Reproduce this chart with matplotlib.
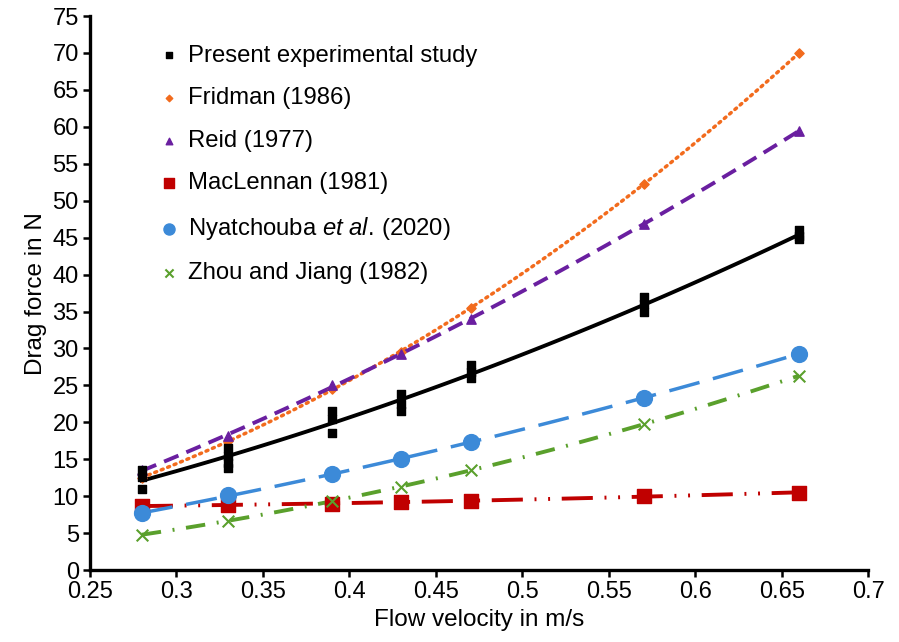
import numpy as np
import matplotlib
matplotlib.use("Agg")
from matplotlib import pyplot as plt

plt.rcParams['font.family'] = ['Liberation Sans', 'DejaVu Sans']
plt.rcParams['mathtext.fontset'] = 'custom'
plt.rcParams['mathtext.rm'] = 'Liberation Sans'
plt.rcParams['mathtext.it'] = 'Liberation Sans:italic'

# flow velocities (m/s)
velocity = [0.28, 0.33, 0.39, 0.43, 0.47, 0.57, 0.66]

# present experimental study - replicate measurements per velocity
exp_v = [0.28, 0.28, 0.28,
         0.33, 0.33, 0.33, 0.33,
         0.39, 0.39, 0.39,
         0.43, 0.43, 0.43,
         0.47, 0.47, 0.47,
         0.57, 0.57, 0.57,
         0.66, 0.66, 0.66]
exp_f = [13.6, 12.6, 11.0,
         16.5, 15.5, 14.5, 13.8,
         21.5, 20.5, 18.6,
         23.8, 22.5, 21.5,
         27.8, 26.8, 26.0,
         37.0, 36.0, 35.0,
         46.0, 45.2, 44.8]

fridman = [12.5, 17.5, 24.5, 29.5, 35.5, 52.3, 70.0]
reid = [13.5, 18.2, 25.0, 29.3, 34.0, 46.8, 59.5]
maclennan = [8.7, 8.8, 9.0, 9.2, 9.4, 10.0, 10.5]
nyatchouba = [7.7, 10.1, 13.0, 15.1, 17.3, 23.3, 29.3]
zhou = [4.8, 6.7, 9.3, 11.3, 13.5, 19.8, 26.3]

fig, ax = plt.subplots(figsize=(8.99, 6.42), dpi=100)
fig.subplots_adjust(left=0.1, right=0.966, top=0.975, bottom=0.112)

xs = np.linspace(0.28, 0.66, 100)

def trend(x, y):
    c = np.polyfit(x, y, 2)
    return np.polyval(c, xs)

# trend lines first
ax.plot(xs, trend(exp_v, exp_f), color='black', lw=2.8, zorder=2)
ax.plot(xs, trend(velocity, fridman), color='#f26b1d', lw=2.5, ls=(0, (0.6, 1.4)),
        dash_capstyle='round', zorder=2)
ax.plot(xs, trend(velocity, reid), color='#6a1fa0', lw=2.8, ls=(0, (4, 2.2)), zorder=2)
ax.plot(xs, trend(velocity, maclennan), color='#c00000', lw=2.8,
        ls=(0, (8, 3, 0.5, 3, 0.5, 3)), zorder=2)
ax.plot(xs, trend(velocity, nyatchouba), color='#3c8ad8', lw=2.5, ls=(0, (9, 4)), zorder=2)
ax.plot(xs, trend(velocity, zhou), color='#5aa02c', lw=2.8, ls=(0, (5, 3, 0.5, 3)), zorder=2)

# markers
ax.scatter(exp_v, exp_f, marker='s', s=40, color='black', zorder=5,
           label='Present experimental study')
ax.scatter(velocity, fridman, marker='D', s=22, color='#f26b1d', zorder=4,
           label='Fridman (1986)')
ax.scatter(velocity, reid, marker='^', s=45, color='#6a1fa0', zorder=4,
           label='Reid (1977)')
ax.scatter(velocity, maclennan, marker='s', s=110, color='#c00000', zorder=3,
           label='MacLennan (1981)')
ax.scatter(velocity, nyatchouba, marker='o', s=130, color='#3c8ad8', zorder=3,
           label=r'Nyatchouba $\it{et\ al.}\,$(2020)')
ax.scatter(velocity, zhou, marker='x', s=70, color='#5aa02c', linewidths=1.5, zorder=3,
           label='Zhou and Jiang (1982)')

ax.set_xlim(0.25, 0.7)
ax.set_ylim(0, 75)
ax.set_xticks(np.arange(0.25, 0.701, 0.05))
ax.set_xticklabels(['0.25', '0.3', '0.35', '0.4', '0.45', '0.5', '0.55', '0.6', '0.65', '0.7'])
ax.set_yticks(np.arange(0, 76, 5))
ax.tick_params(labelsize=17, width=1.8, length=5, direction='out', pad=3)
ax.spines['top'].set_visible(False)
ax.spines['right'].set_visible(False)
ax.spines['left'].set_linewidth(2.4)
ax.spines['bottom'].set_linewidth(2.4)
ax.set_xlabel('Flow velocity in m/s', fontsize=17.5, labelpad=4)
ax.set_ylabel('Drag force in N', fontsize=17.5, labelpad=4)

leg = ax.legend(loc='upper left', bbox_to_anchor=(0.052, 0.987), frameon=False, fontsize=17.2,
                handletextpad=0.1, labelspacing=0.86, markerscale=0.7,
                handlelength=1.4)

fig.savefig('out.png', dpi=100)
